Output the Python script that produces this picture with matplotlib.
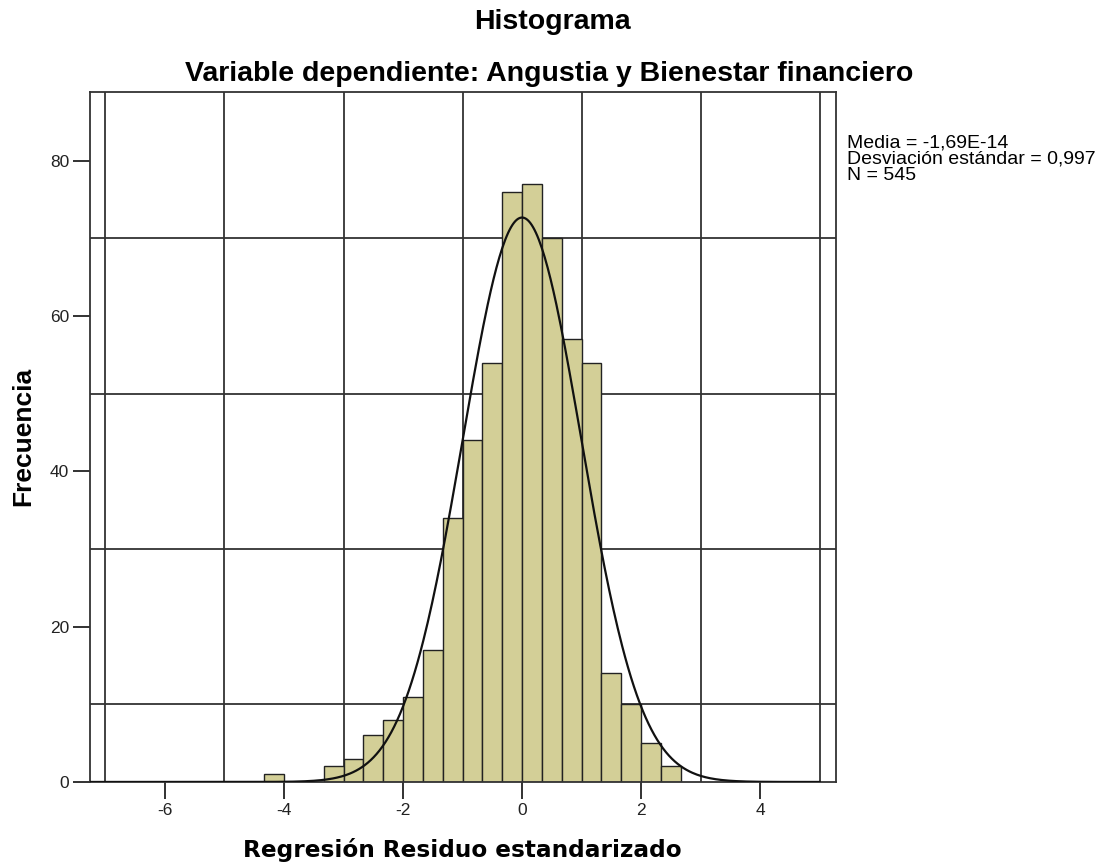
import numpy as np
import matplotlib.pyplot as plt

# bin edges (width 1/3) and counts
bin_left = np.array([-13, -10, -9, -8, -7, -6, -5, -4, -3, -2, -1,
                     0, 1, 2, 3, 4, 5, 6, 7]) / 3.0
counts = [1, 2, 3, 6, 8, 11, 17, 34, 44, 54, 76,
          77, 70, 57, 54, 14, 10, 5, 2]
bin_width = 1 / 3.0

media = -1.69e-14
desv = 0.997
n = 545

x_ticks = [-6, -4, -2, 0, 2, 4]
y_ticks = [0, 20, 40, 60, 80]
x_grid = [-7, -5, -3, -1, 1, 3, 5]
y_grid = [10, 30, 50, 70]

plt.rcParams['font.family'] = ['Liberation Sans', 'DejaVu Sans']

fig = plt.figure(figsize=(11.04, 8.65), dpi=100)
ax = fig.add_axes([0.0815, 0.096, 0.676, 0.798])

for g in x_grid:
    ax.axvline(g, color='#333333', lw=1.3, zorder=1)
for g in y_grid:
    ax.axhline(g, color='#333333', lw=1.3, zorder=1)

ax.bar(bin_left, counts, width=bin_width, align='edge',
       color='#D3CF97', edgecolor='#222222', lw=1.0, zorder=2)

# curva normal
xs = np.linspace(-7.26, 5.0, 500)
ys = n * bin_width / (desv * np.sqrt(2 * np.pi)) * np.exp(-0.5 * ((xs - media) / desv) ** 2)
ax.plot(xs, ys, color='#111111', lw=1.6, zorder=3)

ax.set_xlim(-7.26, 5.28)
ax.set_ylim(0, 88.9)
ax.set_xticks(x_ticks)
ax.set_xticklabels([str(t) for t in x_ticks])
ax.set_yticks(y_ticks)
ax.tick_params(direction='out', length=12, width=1.3, labelsize=12.5, colors='#222222', pad=3)
for s in ax.spines.values():
    s.set_linewidth(1.3)
    s.set_color('#333333')

fig.text(0.419, 0.017, 'Regresión Residuo estandarizado', family=['DejaVu Sans'],
         ha='center', va='center', fontsize=16.7, fontweight='bold')
fig.text(0.021, 0.495, 'Frecuencia', rotation=90, ha='center', va='center',
         fontsize=19, fontweight='bold')

fig.text(0.5, 0.975, 'Histograma', ha='center', va='center', fontsize=20.5, fontweight='bold')
fig.text(0.497, 0.915, 'Variable dependiente: Angustia y Bienestar financiero',
         ha='center', va='center', fontsize=20.5, fontweight='bold')

fig.text(0.767, 0.845, 'Media = -1,69E-14\nDesviación estándar = 0,997\nN = 545',
         ha='left', va='top', fontsize=14, linespacing=0.96)

fig.savefig('out.png', dpi=100)
